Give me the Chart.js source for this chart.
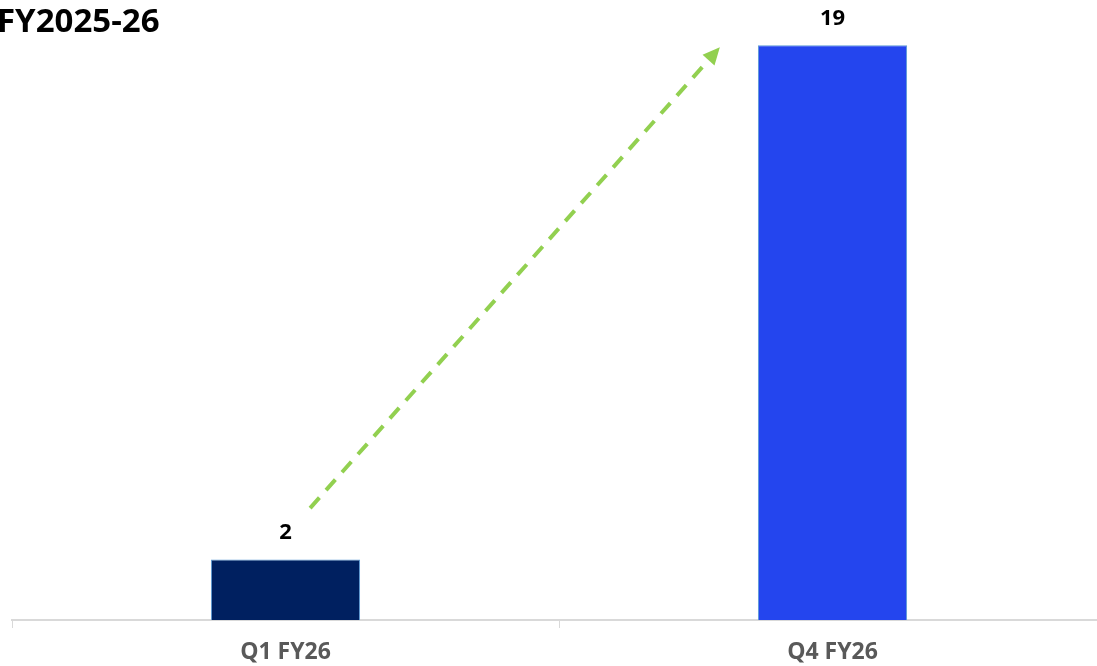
<!DOCTYPE html>
<html>
<head>
<meta charset="utf-8">
<script src="https://cdn.jsdelivr.net/npm/chart.js@4/dist/chart.umd.min.js"></script>
<style>
  html, body { margin: 0; padding: 0; background: #ffffff; overflow: hidden; width: 1097px; height: 666px; }
  #wrap { position: absolute; left: 0; top: 0; width: 1106px; height: 666px; }
</style>
</head>
<body>
<div id="wrap"><canvas id="c" width="1106" height="666"></canvas></div>
<script>
// ---- data ----
const chartTitle = "FY2025-26";
const categories = ["Q1 FY26", "Q4 FY26"];
const values = [2, 19];
const barColors = ["#002060", "#2445EE"];
// trend arrow endpoints, in data terms (category index, value)
const arrowFrom = [0.045, 3.7];
const arrowTo = [0.794, 18.93];

const FONT = "'Open Sans', 'DejaVu Sans', sans-serif";

const titlePlugin = {
  id: 'titleText',
  afterDraw(chart) {
    const ctx = chart.ctx;
    ctx.save();
    ctx.font = "bold 33px " + FONT;
    ctx.fillStyle = "#000000";
    ctx.textAlign = "left";
    ctx.textBaseline = "alphabetic";
    ctx.fillText(chartTitle, -3, 32);
    ctx.restore();
  }
};

const valueLabels = {
  id: 'valueLabels',
  afterDatasetsDraw(chart) {
    const ctx = chart.ctx;
    const meta = chart.getDatasetMeta(0);
    ctx.save();
    ctx.font = "bold 22px " + FONT;
    ctx.fillStyle = "#000000";
    ctx.textAlign = "center";
    ctx.textBaseline = "middle";
    meta.data.forEach((bar, i) => {
      ctx.fillText(String(values[i]), bar.x, bar.y - 27);
    });
    ctx.restore();
  }
};

const trendArrow = {
  id: 'trendArrow',
  afterDatasetsDraw(chart) {
    const xs = chart.scales.x, ys = chart.scales.y;
    const x1 = xs.getPixelForValue(arrowFrom[0]), y1 = ys.getPixelForValue(arrowFrom[1]);
    const x2 = xs.getPixelForValue(arrowTo[0]), y2 = ys.getPixelForValue(arrowTo[1]);
    const ang = Math.atan2(y2 - y1, x2 - x1);
    const headLen = 17, headHalf = 8;
    const bx = x2 - headLen * Math.cos(ang), by = y2 - headLen * Math.sin(ang);
    const ctx = chart.ctx;
    ctx.save();
    ctx.strokeStyle = "#92D050";
    ctx.fillStyle = "#92D050";
    ctx.lineWidth = 4;
    ctx.setLineDash([14, 10]);
    ctx.beginPath();
    ctx.moveTo(x1, y1);
    ctx.lineTo(bx, by);
    ctx.stroke();
    ctx.setLineDash([]);
    ctx.beginPath();
    ctx.moveTo(x2, y2);
    ctx.lineTo(bx + headHalf * Math.sin(ang), by - headHalf * Math.cos(ang));
    ctx.lineTo(bx - headHalf * Math.sin(ang), by + headHalf * Math.cos(ang));
    ctx.closePath();
    ctx.fill();
    ctx.restore();
  }
};

new Chart(document.getElementById('c'), {
  type: 'bar',
  data: {
    labels: categories,
    datasets: [{
      data: values,
      backgroundColor: barColors,
      borderColor: "#5B9BD5",
      borderWidth: 1,
      barPercentage: 0.9,
      categoryPercentage: 0.303
    }]
  },
  options: {
    responsive: false,
    animation: false,
    devicePixelRatio: 1,
    layout: { padding: { left: 12, right: 0, top: 15, bottom: 0 } },
    plugins: { legend: { display: false }, tooltip: { enabled: false }, title: { display: false } },
    scales: {
      x: {
        afterFit(s) { s.height = 46; },
        grid: { display: true, offset: true, drawOnChartArea: false, drawTicks: true, tickLength: 8, color: "#D9D9D9", lineWidth: 1 },
        border: { display: true, color: "#D9D9D9", width: 2 },
        ticks: { color: "#595959", font: { family: FONT, size: 23, weight: 'bold' }, padding: 11 }
      },
      y: {
        display: false,
        min: 0,
        max: 20
      }
    }
  },
  plugins: [titlePlugin, valueLabels, trendArrow]
});
</script>
</body>
</html>
